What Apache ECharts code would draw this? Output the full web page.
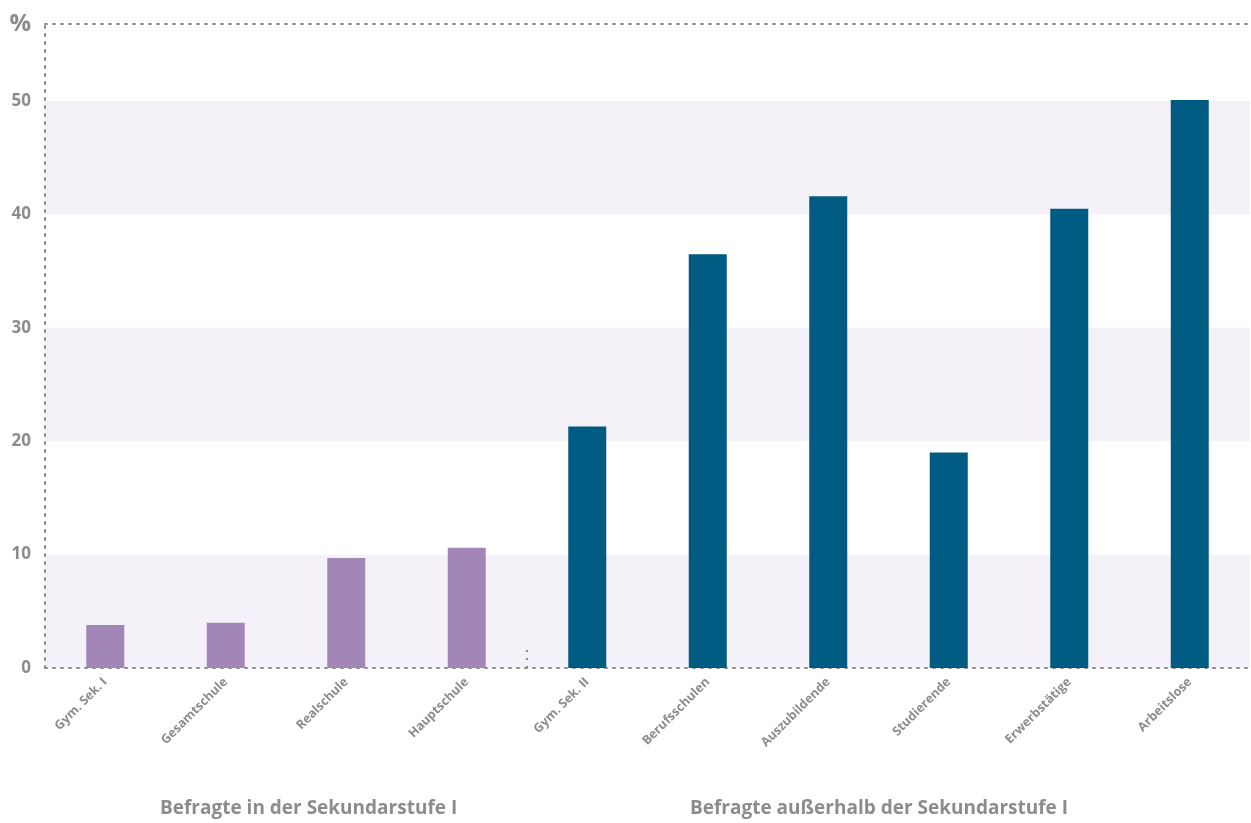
<!DOCTYPE html>
<html><head><meta charset="utf-8">
<script src="https://cdn.jsdelivr.net/npm/echarts@6/dist/echarts.min.js"></script>
<style>html,body{margin:0;padding:0;background:#fff}#c{width:1251px;height:823px}</style>
</head><body><div id="c"></div>
<script>
var categories = ['Gym. Sek. I','Gesamtschule','Realschule','Hauptschule','Gym. Sek. II','Berufsschulen','Auszubildende','Studierende','Erwerbstätige','Arbeitslose'];
var values = [3.8, 4.0, 9.7, 10.6, 21.3, 36.5, 41.6, 19.0, 40.5, 50.1];
var groupIndex = [0,0,0,0,1,1,1,1,1,1];
var groupColors = ['#a386b8', '#005b82'];
var groupLabels = ['Befragte in der Sekundarstufe I', 'Befragte außerhalb der Sekundarstufe I'];
var groupBoundary = [4];
var yMax = 56.8;

var grey = '#8c8c8c';
var font = 'Open Sans';
var dotted = {color: grey, type: [2, 6], width: 2};
var chart = echarts.init(document.getElementById('c'));
chart.setOption({
  animation: false,
  grid: {left: 45, right: 1, top: 24, bottom: 155, containLabel: false},
  xAxis: [{
    type: 'category', data: categories, position: 'bottom',
    axisLine: {lineStyle: dotted},
    axisTick: {show: false},
    axisLabel: {rotate: 45, color: grey, fontFamily: font, fontWeight: 'bold', fontSize: 12.5, margin: 12, interval: 0}
  }, {
    type: 'category', data: categories, position: 'top',
    axisLine: {lineStyle: dotted},
    axisTick: {show: false}, axisLabel: {show: false}
  }, {
    type: 'value', min: 0, max: categories.length, position: 'bottom', z: 10,
    axisLine: {show: false}, splitLine: {show: false}, axisLabel: {show: false},
    axisTick: {show: true, inside: true, length: 18, customValues: groupBoundary,
      lineStyle: {color: grey, type: [2, 6], width: 2.2}}
  }],
  yAxis: {
    type: 'value', min: 0, max: yMax, interval: 10,
    axisLine: {show: true, lineStyle: dotted},
    axisTick: {show: false},
    splitLine: {show: false},
    splitArea: {show: true, areaStyle: {color: ['#f4f1f8', '#ffffff']}},
    axisLabel: {color: grey, fontFamily: font, fontWeight: 'bold', fontSize: 17, margin: 14,
      formatter: function(v){ return v === yMax ? '{p|%}' : String(v); },
      rich: {p: {fontSize: 24, fontWeight: 'bold', fontFamily: font, color: grey}}}
  },
  series: [{
    type: 'bar', barWidth: 38, xAxisIndex: 0,
    data: values.map(function(v, i){ return {value: v, itemStyle: {color: groupColors[groupIndex[i]]}}; })
  }],
  graphic: [
    {type: 'text', left: 160, top: 799, style: {text: groupLabels[0], fill: grey, font: 'bold 19px "Open Sans"'}},
    {type: 'text', left: 690, top: 799, style: {text: groupLabels[1], fill: grey, font: 'bold 19px "Open Sans"'}}
  ]
});
</script></body></html>
